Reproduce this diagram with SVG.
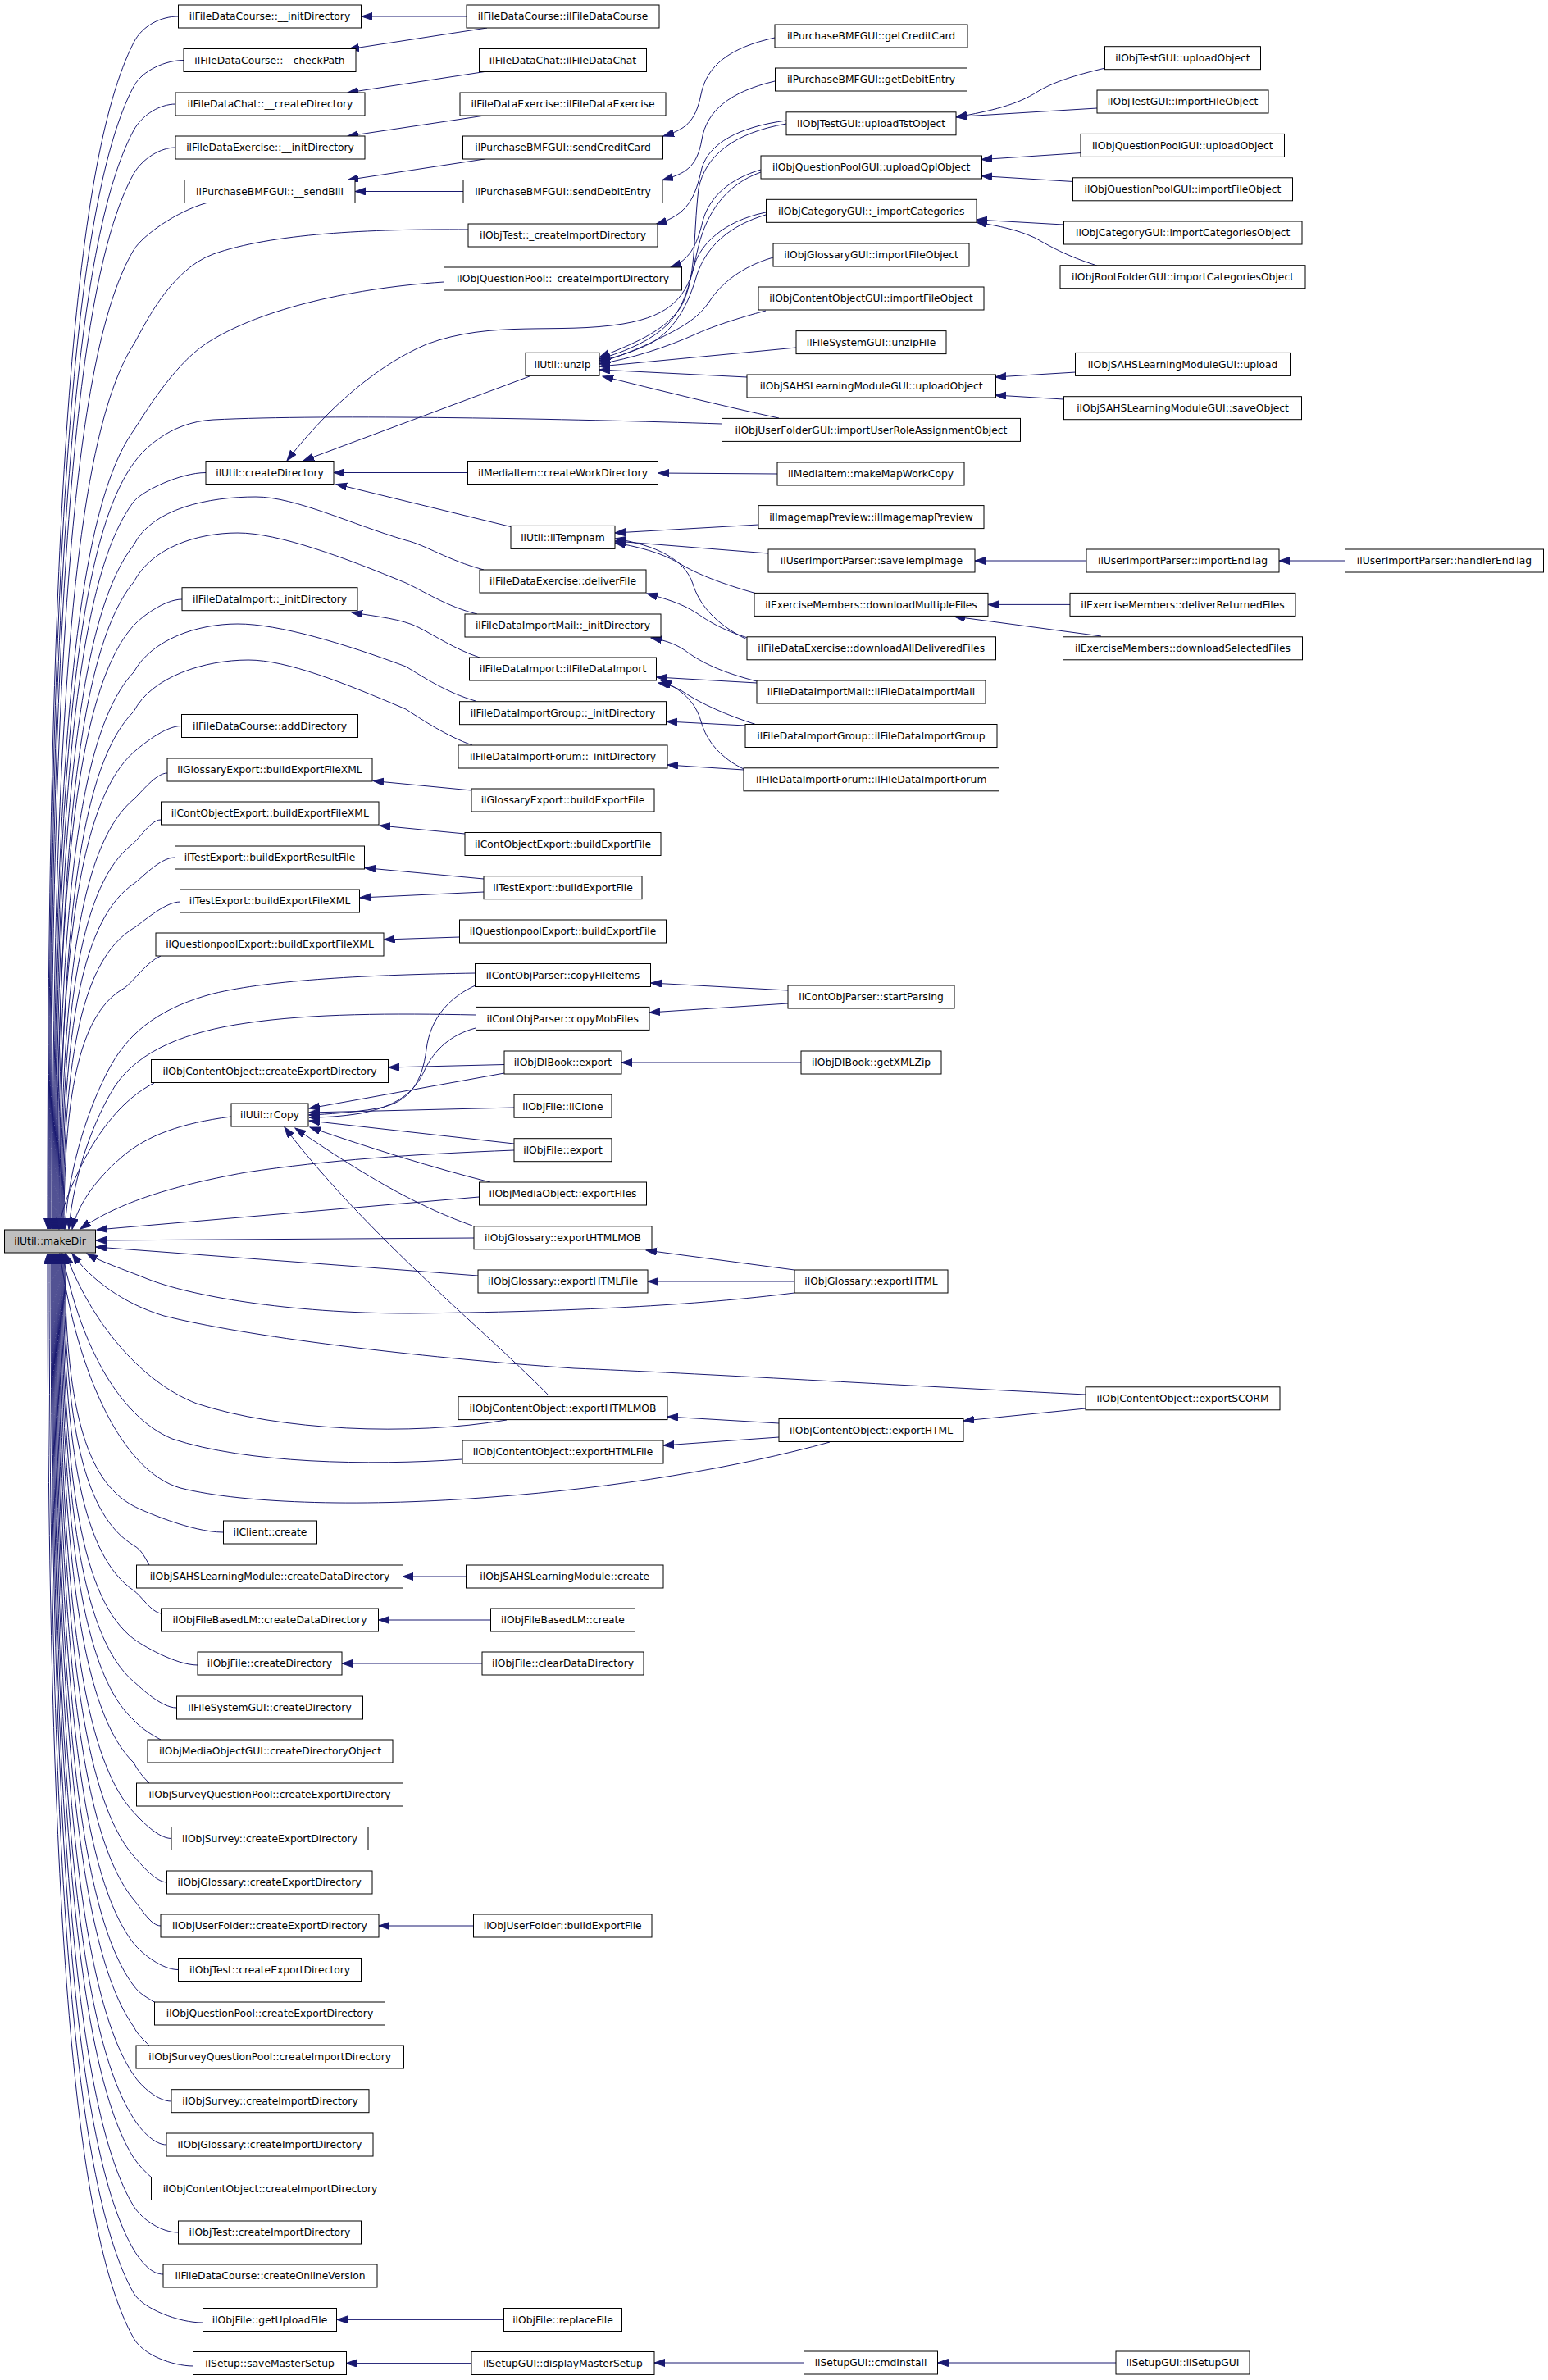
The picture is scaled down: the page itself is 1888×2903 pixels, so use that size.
<svg xmlns="http://www.w3.org/2000/svg" width="1888" height="2903" viewBox="0 0 1888 2903">
<style>
.n rect{fill:#fff;stroke:#000;stroke-width:1}
.n.root rect{fill:#bfbfbf}
.n text{font-family:"DejaVu Sans",sans-serif;font-size:12.3px;text-anchor:middle;fill:#000}
.e path{fill:none;stroke:#191970;stroke-width:1;marker-end:url(#a)}
</style>
<defs>
<marker id="a" markerUnits="userSpaceOnUse" markerWidth="14" markerHeight="10" viewBox="0 0 14 10" refX="13" refY="4.5" orient="auto"><path d="M0,0 L13,4.5 L0,9 z" fill="#191970" stroke="#191970" stroke-width="1"/></marker>
</defs>
<rect width="1888" height="2903" fill="#fff"/>
<g id="connectors" class="e">
<path d="M217,20 C198,20 174,30 163,52 C89,197 58,630 58,1499"/>
<path d="M224,73.5 C203,73.5 174,85 163,105.5 C90,244 59,662 59,1499"/>
<path d="M214,127 C196,127 174,139 163,159 C91,293 60,694 60,1499"/>
<path d="M214,180 C196,180 174,193 163,212 C92,340 61,726 61,1499"/>
<path d="M252,247.5 C215,258 174,287 163,305 C92,424 62,782 62,1499"/>
<path d="M571,280 C450,279 330,285 260,310 C205,330 173,404 163,420 C94,528 64,851 64,1499"/>
<path d="M541,344 C420,352 310,380 250,420 C210,447 173,510 163,525 C94,622 65,914 65,1499"/>
<path d="M880,517 C700,511 400,505 260,512 C205,515 173,551 163,565 C95,658 66,938 66,1499"/>
<path d="M251,576.5 C220,576.5 173,599 163,612 C96,700 67,966 67,1499"/>
<path d="M590,695 C545,683 520,665 495,659 C430,640 360,606 312,606 C255,606 185,620 163,665 C97,748 68,998 68,1499"/>
<path d="M222,731 C201,731 173,752 163,763 C97,836 69,1057 69,1499"/>
<path d="M582,749 C545,740 515,720 495,711 C420,680 340,650 290,650 C240,650 185,668 163,710 C98,789 70,1025 70,1499"/>
<path d="M580,855 C545,845 515,825 495,813 C420,785 340,761 290,761 C240,761 185,780 163,820 C99,888 71,1091 71,1499"/>
<path d="M221,885.5 C201,885.5 173,909 163,917.5 C99,975 72,1149 72,1499"/>
<path d="M576,909 C545,898 515,878 495,865 C420,833 350,805 303,805 C250,805 185,825 163,868 C100,931 73,1120 73,1499"/>
<path d="M204,943 C190,943 172,967 163,975 C101,1027 74,1184 74,1499"/>
<path d="M196,1000 C184,1000 170,1023 161,1030 C101,1077 75,1217 75,1499"/>
<path d="M213,1046 C195,1046 172,1072 163,1078 C102,1120 76,1246 76,1499"/>
<path d="M220,1100 C200,1100 172,1127 163,1132 C103,1169 77,1278 77,1499"/>
<path d="M196,1166 C178,1174 165,1195 152,1205 C100,1234 78,1322 78,1499"/>
<path d="M580,1187 C450,1189 330,1195 260,1212 C200,1228 160,1255 135,1300 C110,1345 84,1420 79,1499"/>
<path d="M580,1238 C480,1236 380,1236 300,1248 C230,1258 170,1280 140,1325 C115,1365 90,1430 84,1499"/>
<path d="M188,1321 C150,1340 120,1380 100,1420 C85,1450 75,1475 72,1499"/>
<path d="M282,1362 C220,1370 180,1385 150,1410 C115,1440 95,1470 88,1499"/>
<path d="M627,1403 C500,1408 400,1415 300,1430 C200,1448 140,1470 98,1499"/>
<path d="M584,1460 L118,1500"/>
<path d="M578,1510 L117,1513"/>
<path d="M583,1556 L117,1521"/>
<path d="M969,1577 C850,1592 700,1600 500,1602 C350,1602 230,1580 180,1560 C150,1548 125,1540 106,1529"/>
<path d="M1324,1701 C1100,1690 850,1675 700,1669 C500,1655 300,1630 200,1605 C150,1590 110,1560 88,1529"/>
<path d="M618,1732 C500,1752 340,1745 240,1712 C170,1685 110,1610 80,1529"/>
<path d="M564,1780 C450,1788 300,1785 210,1755 C150,1730 100,1650 76,1529"/>
<path d="M1012,1759 C900,1790 750,1815 600,1826 C450,1838 300,1835 220,1815 C150,1795 95,1680 73,1529"/>
<path d="M272,1869 C234,1869 172,1842 163,1837 C104,1806 79,1714 79,1529"/>
<path d="M182,1909 C176,1898 172,1890 163,1885 C104,1849 78,1743 78,1529"/>
<path d="M196,1968 C184,1966 172,1946 163,1940 C103,1899 77,1776 77,1529"/>
<path d="M241,2031 C214,2031 172,2006 163,1999 C101,1952 76,1811 76,1529"/>
<path d="M215,2083 C197,2083 172,2059 163,2051 C102,1999 75,1842 75,1529"/>
<path d="M196,2122 C185,2116 172,2108 163,2098 C101,2041 74,1870 74,1529"/>
<path d="M182,2175 C175,2168 168,2160 163,2150 C100,2088 73,1902 73,1529"/>
<path d="M209,2242.5 C193,2242.5 172.5,2221 163,2210.5 C99,2142 72,1938 72,1529"/>
<path d="M204,2296 C190,2296 173,2275 163,2264 C99,2190 71,1970 71,1529"/>
<path d="M196,2349 C184,2349 173,2329 163,2317 C98,2238 70,2002 70,1529"/>
<path d="M217,2402.5 C198,2402.5 173,2383 163,2370.5 C97,2286 69,2034 69,1529"/>
<path d="M190,2443 C180,2437 170,2432 163,2422 C96,2333 68,2065 68,1529"/>
<path d="M182,2495 C175,2488 168,2482 163,2472 C96,2378 67,2095 67,1529"/>
<path d="M209,2563 C193,2563 173,2546 163,2531 C95,2431 66,2130 66,1529"/>
<path d="M203,2616 C189,2616 173,2600 163,2584 C94,2478 65,2162 65,1529"/>
<path d="M186,2657 C178,2650 170,2642 163,2632 C94,2522 64,2191 64,1529"/>
<path d="M217,2723 C198,2723 173.5,2708 163,2691 C93,2575 63,2226 63,1529"/>
<path d="M199,2774 C186,2774 174,2762 163,2744 C92,2622 62,2258 62,1529"/>
<path d="M247,2833 C218,2833 174,2816 163,2797 C91,2670 60,2290 60,1529"/>
<path d="M236,2886 C210,2886 174,2872 163,2852 C89,2720 58,2323 58,1529"/>
<path d="M569,20 L441,20"/>
<path d="M594,34 L425,60"/>
<path d="M591,87.5 L424,113"/>
<path d="M591,141 L424,166"/>
<path d="M591,194 L424,219.5"/>
<path d="M565,233.5 L433,233.5"/>
<path d="M945,46 C890,58 862,80 855,115 C848,150 835,158 809,166"/>
<path d="M945,99 C890,112 862,135 856,170 C850,205 835,212 808,219.5"/>
<path d="M959,147 C900,155 865,175 856,205 C848,240 840,262 800,273.5"/>
<path d="M928,207 C890,218 865,240 857,270 C850,300 840,318 818,326"/>
<path d="M959,151 C895,162 860,190 852,230 C845,290 850,340 830,375 C810,405 770,420 731,436"/>
<path d="M928,210 C885,225 862,260 852,300 C842,340 838,370 815,395 C795,415 765,428 731,438"/>
<path d="M934,262 C890,275 862,300 850,335 C840,370 825,400 795,418 C775,428 755,435 731,440"/>
<path d="M943,314 C905,325 880,345 865,368 C850,390 830,400 800,415 C780,425 755,435 731,442"/>
<path d="M934,379 C900,388 870,398 852,406 C810,425 770,437 731,444"/>
<path d="M971,424 L731,447"/>
<path d="M911,460 L731,451"/>
<path d="M950,510 C880,495 800,475 735,459"/>
<path d="M647,458.6 L370,562"/>
<path d="M934,259 C880,270 855,300 848,320 C838,360 820,385 760,395 C680,408 600,390 520,420 C450,450 390,510 350,562"/>
<path d="M570.5,576.5 L407,576.5"/>
<path d="M625,643 L410,590.5"/>
<path d="M948,578 L803,577"/>
<path d="M925,640 L750,650"/>
<path d="M937,675 L750,660"/>
<path d="M923,724 C880,712 850,700 830,688 C810,676 785,668 750,662"/>
<path d="M911,780 C870,760 852,735 845,712 C835,682 800,665 750,657"/>
<path d="M1325,684 L1189,684"/>
<path d="M1640.5,684 L1560,684"/>
<path d="M1305,737.4 L1205,737.4"/>
<path d="M1343,776 L1164,752"/>
<path d="M922,781 C890,772 870,762 850,748 C830,735 810,730 789,724"/>
<path d="M923,831 C880,820 855,808 835,793 C820,783 805,780 794,778"/>
<path d="M585,802 C555,792 530,775 510,765 C490,755 460,752 429,747"/>
<path d="M923,833 L801,826"/>
<path d="M923,884 C885,872 855,858 835,845 C825,838 815,835 803,833"/>
<path d="M907,938 C880,925 862,905 855,880 C848,855 830,840 806,830"/>
<path d="M909,885 L813,880"/>
<path d="M907,939 L814,933"/>
<path d="M575,964 L455,952.5"/>
<path d="M567,1017 L463,1007"/>
<path d="M590,1072 L445,1058.6"/>
<path d="M590,1088 L439,1095"/>
<path d="M560,1143 L468.5,1146"/>
<path d="M961,1208 L794,1199"/>
<path d="M961,1224 L792,1235"/>
<path d="M582,1201 C550,1215 525,1240 520,1280 C515,1320 500,1345 460,1352 C430,1357 400,1359 377,1360"/>
<path d="M580,1254 C550,1262 530,1280 518,1305 C505,1335 480,1350 440,1358 C415,1362 395,1363 377,1363"/>
<path d="M615,1309 L377,1352"/>
<path d="M615,1298.5 L474,1302"/>
<path d="M977,1296 L758,1296"/>
<path d="M627,1351 L377,1357"/>
<path d="M627,1395 L377,1367"/>
<path d="M598,1442 C530,1425 450,1400 378,1375"/>
<path d="M576,1495 C520,1475 460,1445 360,1376"/>
<path d="M670,1703 C600,1630 450,1510 347,1375"/>
<path d="M969,1549 L788,1525"/>
<path d="M969,1563 L790,1563"/>
<path d="M950,1736 L814,1728"/>
<path d="M950,1753 L809,1763"/>
<path d="M1324,1718 L1175,1733"/>
<path d="M568,1923 L491,1923"/>
<path d="M598.5,1976 L462,1976"/>
<path d="M588,2029 L417,2029"/>
<path d="M578,2349 L462,2349"/>
<path d="M614,2829.4 L411,2829.4"/>
<path d="M575,2882.6 L422,2882.6"/>
<path d="M980,2882 L798,2882"/>
<path d="M1361,2882 L1143.5,2882"/>
<path d="M1348,83 C1310,92 1285,100 1265,112 C1240,128 1210,135 1166,143"/>
<path d="M1338,132 L1166,142.5"/>
<path d="M1318,186.6 L1197,194.6"/>
<path d="M1309,221.5 L1197,214.6"/>
<path d="M1297,274 L1191,268"/>
<path d="M1338,324 C1300,312 1280,300 1262,290 C1240,280 1220,276 1191,271"/>
<path d="M1312,454 L1214,460"/>
<path d="M1297,487 L1214,482"/>
</g>
<g id="n0" class="n root"><rect x="5.5" y="1500" width="111" height="28"/><text x="61" y="1518.4">ilUtil::makeDir</text></g>
<g id="n1" class="n"><rect x="217.5" y="6" width="223" height="28"/><text x="329" y="24.4">ilFileDataCourse::__initDirectory</text></g>
<g id="n2" class="n"><rect x="224" y="59.5" width="210" height="28"/><text x="329" y="77.9">ilFileDataCourse::__checkPath</text></g>
<g id="n3" class="n"><rect x="214" y="113" width="231" height="28"/><text x="329.5" y="131.4">ilFileDataChat::__createDirectory</text></g>
<g id="n4" class="n"><rect x="214" y="166" width="231" height="28"/><text x="329.5" y="184.4">ilFileDataExercise::__initDirectory</text></g>
<g id="n5" class="n"><rect x="225" y="219.5" width="208" height="28"/><text x="329" y="237.9">ilPurchaseBMFGUI::__sendBill</text></g>
<g id="n6" class="n"><rect x="251" y="562.5" width="156" height="28"/><text x="329" y="580.9">ilUtil::createDirectory</text></g>
<g id="n7" class="n"><rect x="222" y="716.7" width="214" height="28"/><text x="329" y="735.1">ilFileDataImport::_initDirectory</text></g>
<g id="n8" class="n"><rect x="221.5" y="871.5" width="215" height="28"/><text x="329" y="889.9">ilFileDataCourse::addDirectory</text></g>
<g id="n9" class="n"><rect x="204" y="925" width="250" height="28"/><text x="329" y="943.4">ilGlossaryExport::buildExportFileXML</text></g>
<g id="n10" class="n"><rect x="196.5" y="978" width="265.5" height="28"/><text x="329.2" y="996.4">ilContObjectExport::buildExportFileXML</text></g>
<g id="n11" class="n"><rect x="213.5" y="1032" width="231" height="28"/><text x="329" y="1050.4">ilTestExport::buildExportResultFile</text></g>
<g id="n12" class="n"><rect x="219.5" y="1085" width="219" height="28"/><text x="329" y="1103.4">ilTestExport::buildExportFileXML</text></g>
<g id="n13" class="n"><rect x="190" y="1138" width="278" height="28"/><text x="329" y="1156.4">ilQuestionpoolExport::buildExportFileXML</text></g>
<g id="n14" class="n"><rect x="184.5" y="1292.5" width="289" height="28"/><text x="329" y="1310.9">ilObjContentObject::createExportDirectory</text></g>
<g id="n15" class="n"><rect x="282" y="1346" width="94" height="28"/><text x="329" y="1364.4">ilUtil::rCopy</text></g>
<g id="n16" class="n"><rect x="272.5" y="1855" width="114" height="28"/><text x="329.5" y="1873.4">ilClient::create</text></g>
<g id="n17" class="n"><rect x="166.5" y="1909" width="325" height="28"/><text x="329" y="1927.4">ilObjSAHSLearningModule::createDataDirectory</text></g>
<g id="n18" class="n"><rect x="196.5" y="1962" width="265" height="28"/><text x="329" y="1980.4">ilObjFileBasedLM::createDataDirectory</text></g>
<g id="n19" class="n"><rect x="241" y="2015" width="176" height="28"/><text x="329" y="2033.4">ilObjFile::createDirectory</text></g>
<g id="n20" class="n"><rect x="215.5" y="2069" width="227" height="28"/><text x="329" y="2087.4">ilFileSystemGUI::createDirectory</text></g>
<g id="n21" class="n"><rect x="180" y="2122" width="299" height="28"/><text x="329.5" y="2140.4">ilObjMediaObjectGUI::createDirectoryObject</text></g>
<g id="n22" class="n"><rect x="166.5" y="2175" width="325" height="28"/><text x="329" y="2193.4">ilObjSurveyQuestionPool::createExportDirectory</text></g>
<g id="n23" class="n"><rect x="209" y="2228.5" width="240" height="28"/><text x="329" y="2246.9">ilObjSurvey::createExportDirectory</text></g>
<g id="n24" class="n"><rect x="203.5" y="2282" width="250.5" height="28"/><text x="328.7" y="2300.4">ilObjGlossary::createExportDirectory</text></g>
<g id="n25" class="n"><rect x="196" y="2335" width="266" height="28"/><text x="329" y="2353.4">ilObjUserFolder::createExportDirectory</text></g>
<g id="n26" class="n"><rect x="217.5" y="2388.5" width="223" height="28"/><text x="329" y="2406.9">ilObjTest::createExportDirectory</text></g>
<g id="n27" class="n"><rect x="188.5" y="2442" width="281" height="28"/><text x="329" y="2460.4">ilObjQuestionPool::createExportDirectory</text></g>
<g id="n28" class="n"><rect x="166" y="2495" width="326.5" height="28"/><text x="329.2" y="2513.4">ilObjSurveyQuestionPool::createImportDirectory</text></g>
<g id="n29" class="n"><rect x="209" y="2548.7" width="241" height="28"/><text x="329.5" y="2567.1">ilObjSurvey::createImportDirectory</text></g>
<g id="n30" class="n"><rect x="203" y="2602" width="252" height="28"/><text x="329" y="2620.4">ilObjGlossary::createImportDirectory</text></g>
<g id="n31" class="n"><rect x="184.5" y="2655.5" width="290" height="28"/><text x="329.5" y="2673.9">ilObjContentObject::createImportDirectory</text></g>
<g id="n32" class="n"><rect x="217.5" y="2709" width="223" height="28"/><text x="329" y="2727.4">ilObjTest::createImportDirectory</text></g>
<g id="n33" class="n"><rect x="199" y="2762" width="261" height="28"/><text x="329.5" y="2780.4">ilFileDataCourse::createOnlineVersion</text></g>
<g id="n34" class="n"><rect x="247.5" y="2815.5" width="163" height="28"/><text x="329" y="2833.9">ilObjFile::getUploadFile</text></g>
<g id="n35" class="n"><rect x="235.5" y="2868.5" width="187" height="28"/><text x="329" y="2886.9">ilSetup::saveMasterSetup</text></g>
<g id="n36" class="n"><rect x="569" y="6" width="235" height="28"/><text x="686.5" y="24.4">ilFileDataCourse::ilFileDataCourse</text></g>
<g id="n37" class="n"><rect x="584.5" y="59.5" width="204" height="28"/><text x="686.5" y="77.9">ilFileDataChat::ilFileDataChat</text></g>
<g id="n38" class="n"><rect x="561" y="113" width="251" height="28"/><text x="686.5" y="131.4">ilFileDataExercise::ilFileDataExercise</text></g>
<g id="n39" class="n"><rect x="564.5" y="166" width="244" height="28"/><text x="686.5" y="184.4">ilPurchaseBMFGUI::sendCreditCard</text></g>
<g id="n40" class="n"><rect x="565" y="219.5" width="243" height="28"/><text x="686.5" y="237.9">ilPurchaseBMFGUI::sendDebitEntry</text></g>
<g id="n41" class="n"><rect x="571" y="273" width="231" height="28"/><text x="686.5" y="291.4">ilObjTest::_createImportDirectory</text></g>
<g id="n42" class="n"><rect x="541.5" y="326" width="290" height="28"/><text x="686.5" y="344.4">ilObjQuestionPool::_createImportDirectory</text></g>
<g id="n43" class="n"><rect x="641" y="430.3" width="90" height="28"/><text x="686" y="448.7">ilUtil::unzip</text></g>
<g id="n44" class="n"><rect x="570.5" y="562.5" width="232" height="28"/><text x="686.5" y="580.9">ilMediaItem::createWorkDirectory</text></g>
<g id="n45" class="n"><rect x="623" y="641.4" width="127" height="28"/><text x="686.5" y="659.8">ilUtil::ilTempnam</text></g>
<g id="n46" class="n"><rect x="585" y="695" width="203" height="28"/><text x="686.5" y="713.4">ilFileDataExercise::deliverFile</text></g>
<g id="n47" class="n"><rect x="567" y="749" width="239" height="28"/><text x="686.5" y="767.4">ilFileDataImportMail::_initDirectory</text></g>
<g id="n48" class="n"><rect x="572.5" y="802" width="228" height="28"/><text x="686.5" y="820.4">ilFileDataImport::ilFileDataImport</text></g>
<g id="n49" class="n"><rect x="560.5" y="855.7" width="252" height="28"/><text x="686.5" y="874.1">ilFileDataImportGroup::_initDirectory</text></g>
<g id="n50" class="n"><rect x="559" y="909" width="255" height="28"/><text x="686.5" y="927.4">ilFileDataImportForum::_initDirectory</text></g>
<g id="n51" class="n"><rect x="575" y="962" width="223" height="28"/><text x="686.5" y="980.4">ilGlossaryExport::buildExportFile</text></g>
<g id="n52" class="n"><rect x="567" y="1015.5" width="239" height="28"/><text x="686.5" y="1033.9">ilContObjectExport::buildExportFile</text></g>
<g id="n53" class="n"><rect x="590" y="1068.7" width="193" height="28"/><text x="686.5" y="1087.1">ilTestExport::buildExportFile</text></g>
<g id="n54" class="n"><rect x="560.5" y="1122" width="252" height="28"/><text x="686.5" y="1140.4">ilQuestionpoolExport::buildExportFile</text></g>
<g id="n55" class="n"><rect x="579.5" y="1175.5" width="214" height="28"/><text x="686.5" y="1193.9">ilContObjParser::copyFileItems</text></g>
<g id="n56" class="n"><rect x="580.5" y="1228.4" width="211.5" height="28"/><text x="686.2" y="1246.8">ilContObjParser::copyMobFiles</text></g>
<g id="n57" class="n"><rect x="615" y="1282" width="143" height="28"/><text x="686.5" y="1300.4">ilObjDlBook::export</text></g>
<g id="n58" class="n"><rect x="627" y="1335.2" width="119" height="28"/><text x="686.5" y="1353.6">ilObjFile::ilClone</text></g>
<g id="n59" class="n"><rect x="627" y="1388.7" width="119" height="28"/><text x="686.5" y="1407.1">ilObjFile::export</text></g>
<g id="n60" class="n"><rect x="584.5" y="1442" width="204" height="28"/><text x="686.5" y="1460.4">ilObjMediaObject::exportFiles</text></g>
<g id="n61" class="n"><rect x="578" y="1495.8" width="217" height="28"/><text x="686.5" y="1514.2">ilObjGlossary::exportHTMLMOB</text></g>
<g id="n62" class="n"><rect x="583" y="1549" width="207" height="28"/><text x="686.5" y="1567.4">ilObjGlossary::exportHTMLFile</text></g>
<g id="n63" class="n"><rect x="559" y="1703.6" width="255" height="28"/><text x="686.5" y="1722">ilObjContentObject::exportHTMLMOB</text></g>
<g id="n64" class="n"><rect x="564" y="1757" width="245" height="28"/><text x="686.5" y="1775.4">ilObjContentObject::exportHTMLFile</text></g>
<g id="n65" class="n"><rect x="568.5" y="1909" width="240.5" height="28"/><text x="688.7" y="1927.4">ilObjSAHSLearningModule::create</text></g>
<g id="n66" class="n"><rect x="598.5" y="1962" width="176" height="28"/><text x="686.5" y="1980.4">ilObjFileBasedLM::create</text></g>
<g id="n67" class="n"><rect x="588" y="2015" width="197" height="28"/><text x="686.5" y="2033.4">ilObjFile::clearDataDirectory</text></g>
<g id="n68" class="n"><rect x="577.5" y="2335" width="217.5" height="28"/><text x="686.2" y="2353.4">ilObjUserFolder::buildExportFile</text></g>
<g id="n69" class="n"><rect x="614.5" y="2815.5" width="144" height="28"/><text x="686.5" y="2833.9">ilObjFile::replaceFile</text></g>
<g id="n70" class="n"><rect x="575" y="2868.5" width="223" height="28"/><text x="686.5" y="2886.9">ilSetupGUI::displayMasterSetup</text></g>
<g id="n71" class="n"><rect x="945" y="30" width="235" height="28"/><text x="1062.5" y="48.4">ilPurchaseBMFGUI::getCreditCard</text></g>
<g id="n72" class="n"><rect x="945.5" y="83" width="234" height="28"/><text x="1062.5" y="101.4">ilPurchaseBMFGUI::getDebitEntry</text></g>
<g id="n73" class="n"><rect x="959" y="136.8" width="207" height="28"/><text x="1062.5" y="155.2">ilObjTestGUI::uploadTstObject</text></g>
<g id="n74" class="n"><rect x="928" y="190" width="269.5" height="28"/><text x="1062.7" y="208.4">ilObjQuestionPoolGUI::uploadQplObject</text></g>
<g id="n75" class="n"><rect x="934.5" y="243.3" width="256.5" height="28"/><text x="1062.7" y="261.7">ilObjCategoryGUI::_importCategories</text></g>
<g id="n76" class="n"><rect x="943" y="297" width="239" height="28"/><text x="1062.5" y="315.4">ilObjGlossaryGUI::importFileObject</text></g>
<g id="n77" class="n"><rect x="925" y="350" width="275" height="28"/><text x="1062.5" y="368.4">ilObjContentObjectGUI::importFileObject</text></g>
<g id="n78" class="n"><rect x="971" y="403.6" width="183" height="28"/><text x="1062.5" y="422">ilFileSystemGUI::unzipFile</text></g>
<g id="n79" class="n"><rect x="911" y="457" width="303.5" height="28"/><text x="1062.7" y="475.4">ilObjSAHSLearningModuleGUI::uploadObject</text></g>
<g id="n80" class="n"><rect x="880.5" y="510.4" width="364" height="28"/><text x="1062.5" y="528.8">ilObjUserFolderGUI::importUserRoleAssignmentObject</text></g>
<g id="n81" class="n"><rect x="948" y="564" width="228" height="28"/><text x="1062" y="582.4">ilMediaItem::makeMapWorkCopy</text></g>
<g id="n82" class="n"><rect x="925" y="616.6" width="275" height="28"/><text x="1062.5" y="635">ilImagemapPreview::ilImagemapPreview</text></g>
<g id="n83" class="n"><rect x="937" y="670" width="252" height="28"/><text x="1063" y="688.4">ilUserImportParser::saveTempImage</text></g>
<g id="n84" class="n"><rect x="920" y="723.4" width="285" height="28"/><text x="1062.5" y="741.8">ilExerciseMembers::downloadMultipleFiles</text></g>
<g id="n85" class="n"><rect x="911" y="776.8" width="303.5" height="28"/><text x="1062.7" y="795.2">ilFileDataExercise::downloadAllDeliveredFiles</text></g>
<g id="n86" class="n"><rect x="923" y="830" width="279" height="28"/><text x="1062.5" y="848.4">ilFileDataImportMail::ilFileDataImportMail</text></g>
<g id="n87" class="n"><rect x="909" y="883.5" width="307" height="28"/><text x="1062.5" y="901.9">ilFileDataImportGroup::ilFileDataImportGroup</text></g>
<g id="n88" class="n"><rect x="907" y="936.8" width="311.5" height="28"/><text x="1062.7" y="955.2">ilFileDataImportForum::ilFileDataImportForum</text></g>
<g id="n89" class="n"><rect x="961" y="1202" width="203" height="28"/><text x="1062.5" y="1220.4">ilContObjParser::startParsing</text></g>
<g id="n90" class="n"><rect x="977" y="1282" width="171" height="28"/><text x="1062.5" y="1300.4">ilObjDlBook::getXMLZip</text></g>
<g id="n91" class="n"><rect x="969" y="1549" width="187" height="28"/><text x="1062.5" y="1567.4">ilObjGlossary::exportHTML</text></g>
<g id="n92" class="n"><rect x="950" y="1730.5" width="225" height="28"/><text x="1062.5" y="1748.9">ilObjContentObject::exportHTML</text></g>
<g id="n93" class="n"><rect x="980.5" y="2868" width="163" height="28"/><text x="1062" y="2886.4">ilSetupGUI::cmdInstall</text></g>
<g id="n94" class="n"><rect x="1347.5" y="56.7" width="190" height="28"/><text x="1442.5" y="75.1">ilObjTestGUI::uploadObject</text></g>
<g id="n95" class="n"><rect x="1338" y="110" width="209" height="28"/><text x="1442.5" y="128.4">ilObjTestGUI::importFileObject</text></g>
<g id="n96" class="n"><rect x="1318" y="163.4" width="248.5" height="28"/><text x="1442.2" y="181.8">ilObjQuestionPoolGUI::uploadObject</text></g>
<g id="n97" class="n"><rect x="1308.5" y="216.8" width="268" height="28"/><text x="1442.5" y="235.2">ilObjQuestionPoolGUI::importFileObject</text></g>
<g id="n98" class="n"><rect x="1297.5" y="270" width="290.5" height="28"/><text x="1442.7" y="288.4">ilObjCategoryGUI::importCategoriesObject</text></g>
<g id="n99" class="n"><rect x="1293" y="323.7" width="299" height="28"/><text x="1442.5" y="342.1">ilObjRootFolderGUI::importCategoriesObject</text></g>
<g id="n100" class="n"><rect x="1311.5" y="430.4" width="262" height="28"/><text x="1442.5" y="448.8">ilObjSAHSLearningModuleGUI::upload</text></g>
<g id="n101" class="n"><rect x="1297.5" y="483.7" width="290" height="28"/><text x="1442.5" y="502.1">ilObjSAHSLearningModuleGUI::saveObject</text></g>
<g id="n102" class="n"><rect x="1325" y="670" width="235" height="28"/><text x="1442.5" y="688.4">ilUserImportParser::importEndTag</text></g>
<g id="n103" class="n"><rect x="1305" y="723.4" width="275" height="28"/><text x="1442.5" y="741.8">ilExerciseMembers::deliverReturnedFiles</text></g>
<g id="n104" class="n"><rect x="1296.5" y="776.8" width="292" height="28"/><text x="1442.5" y="795.2">ilExerciseMembers::downloadSelectedFiles</text></g>
<g id="n105" class="n"><rect x="1324" y="1691.8" width="237" height="28"/><text x="1442.5" y="1710.2">ilObjContentObject::exportSCORM</text></g>
<g id="n106" class="n"><rect x="1361" y="2868" width="163" height="28"/><text x="1442.5" y="2886.4">ilSetupGUI::ilSetupGUI</text></g>
<g id="n107" class="n"><rect x="1640.5" y="670" width="242" height="28"/><text x="1761.5" y="688.4">ilUserImportParser::handlerEndTag</text></g>
</svg>
